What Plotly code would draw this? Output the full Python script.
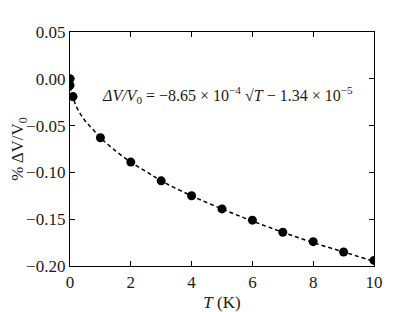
import plotly.graph_objects as go

# data points
T_pts = [0.0, 0.0, 0.1, 1, 2, 3, 4, 5, 6, 7, 8, 9, 10]
dV_pts = [0.000, -0.007, -0.019, -0.063, -0.089, -0.109, -0.125, -0.139, -0.151, -0.164, -0.174, -0.185, -0.194]

# dashed fit curve
T_fit = [0, 0.02, 0.05, 0.1, 0.2, 0.35, 0.5, 0.75, 1, 1.5, 2, 2.5, 3, 4, 5, 6, 7, 8, 9, 10]
dV_fit = [-0.001, -0.010, -0.015, -0.020, -0.029, -0.038, -0.045, -0.054, -0.063, -0.077,
          -0.089, -0.099, -0.109, -0.125, -0.139, -0.152, -0.164, -0.175, -0.185, -0.195]

x_ticks = [0, 2, 4, 6, 8, 10]
y_ticks = [0.05, 0.00, -0.05, -0.10, -0.15, -0.20]

font = "Liberation Serif"
tcol = "#1a1a1a"

fig = go.Figure()
fig.add_trace(go.Scatter(x=T_fit, y=dV_fit, mode="lines", line=dict(color="black", width=1.5, dash="4px,3px"),
                         line_shape="spline", hoverinfo="skip"))
fig.add_trace(go.Scatter(x=T_pts, y=dV_pts, mode="markers", marker=dict(color="black", size=9)))

fig.add_annotation(x=0.99, y=-0.0176, xref="x", yref="y", xanchor="left", yanchor="middle", showarrow=False,
                   text="<i>ΔV/V</i><sub>0</sub> = −8.65 × 10<sup>−4</sup> √<i>T</i> − 1.34 × 10<sup>−5</sup>",
                   font=dict(family=font, size=16, color=tcol))

axis_common = dict(showline=True, linecolor="black", linewidth=1.3, mirror="ticks", ticks="inside",
                   ticklen=5, tickwidth=1, tickcolor="black", showgrid=False, zeroline=False,
                   automargin=False, tickfont=dict(family=font, size=17, color=tcol))

fig.update_xaxes(range=[0, 10], tickvals=x_ticks, ticktext=[str(v) for v in x_ticks],
                 title=dict(text="<i>T</i> (K)", font=dict(family=font, size=17, color=tcol), standoff=6),
                 **axis_common)
fig.update_yaxes(range=[-0.20, 0.05], tickvals=y_ticks, tickformat=".2f",
                 title=dict(text="% ΔV/V<sub>0</sub>", font=dict(family=font, size=17, color=tcol), standoff=4),
                 **axis_common)

# the page has an 8px body margin, so the figure is sized/offset to compensate
fig.update_layout(width=407, height=304, margin=dict(l=62, r=41, t=24, b=46),
                  plot_bgcolor="white", paper_bgcolor="white", showlegend=False)

fig.write_html("out.html")
